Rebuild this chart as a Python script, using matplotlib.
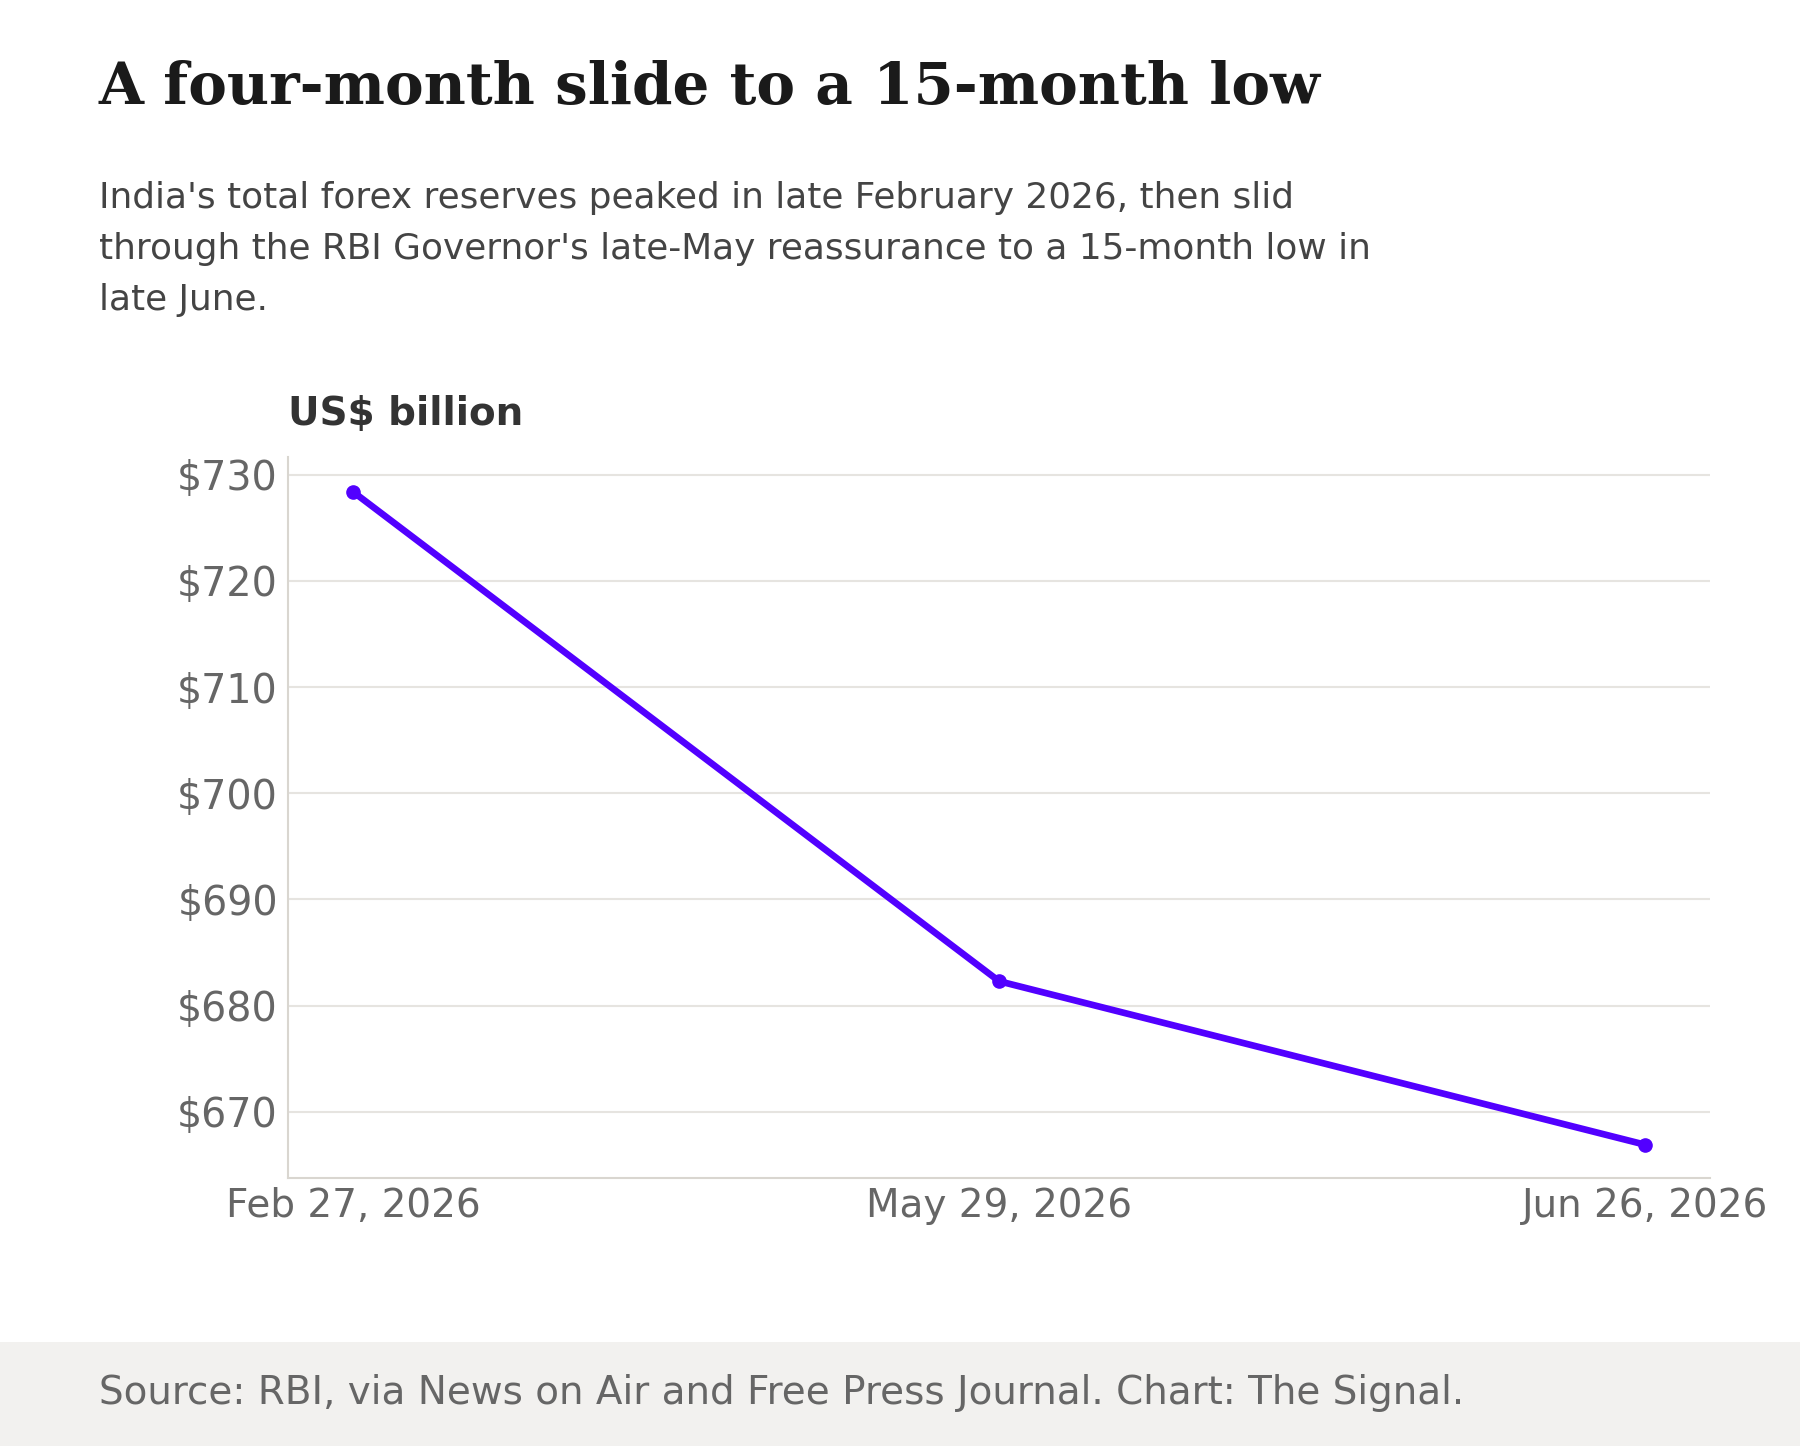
import matplotlib
matplotlib.use("Agg")
import matplotlib.pyplot as plt
from matplotlib.patches import Rectangle

dates = ["Feb 27, 2026", "May 29, 2026", "Jun 26, 2026"]
reserves = [728.4, 682.3, 666.9]
yticks = [670, 680, 690, 700, 710, 720, 730]
ytick_labels = ["$670", "$680", "$690", "$700", "$710", "$720", "$730"]

W, H = 1800, 1446
fig = plt.figure(figsize=(W / 100, H / 100), dpi=100)
fig.patch.set_facecolor("white")

# footer band
fig.patches.append(Rectangle((0, 0), 1, (H - 1342) / H, transform=fig.transFigure,
                             facecolor="#f2f1ef", edgecolor="none", zorder=0))

ax = fig.add_axes([287.7 / W, 1 - 1177.7 / H, (1710 - 287.7) / W, (1177.7 - 456.7) / H])
x = list(range(len(dates)))
ax.plot(x, reserves, color="#5200ff", lw=4.8, marker="o", ms=9.5, solid_capstyle="round", zorder=3)

ax.set_xlim(-0.101, 2.1)
ax.set_ylim(663.8, 731.7)
ax.set_xticks(x)
ax.set_xticklabels(dates)
ax.set_yticks(yticks)
ax.set_yticklabels(ytick_labels)
ax.tick_params(axis="both", length=0, labelcolor="#666666")
ax.tick_params(axis="y", pad=7, labelsize=28.5)
ax.tick_params(axis="x", pad=7, labelsize=28)
ax.grid(axis="y", color="#e6e4e0", lw=1.5)
ax.set_axisbelow(True)
for s in ["top", "right"]:
    ax.spines[s].set_visible(False)
for s in ["left", "bottom"]:
    ax.spines[s].set_color("#d9d6d0")
    ax.spines[s].set_linewidth(1.5)

fig.text(99 / W, 1 - 104 / H, "A four-month slide to a 15-month low", family="DejaVu Serif",
         weight="bold", fontsize=41.8, color="#1a1a1a", va="baseline", ha="left")
sub = ["India's total forex reserves peaked in late February 2026, then slid",
       "through the RBI Governor's late-May reassurance to a 15-month low in",
       "late June."]
for i, line in enumerate(sub):
    fig.text(99 / W, 1 - (208 + 51 * i) / H, line, fontsize=25.8, color="#444444",
             va="baseline", ha="left")
fig.text(288 / W, 1 - 425 / H, "US$ billion", fontsize=28, weight="bold", color="#333333",
         va="baseline", ha="left")
fig.text(99 / W, 1 - 1404 / H, "Source: RBI, via News on Air and Free Press Journal. Chart: The Signal.",
         fontsize=28, color="#666666", va="baseline", ha="left")

fig.savefig("out.png", dpi=100, facecolor="white")
